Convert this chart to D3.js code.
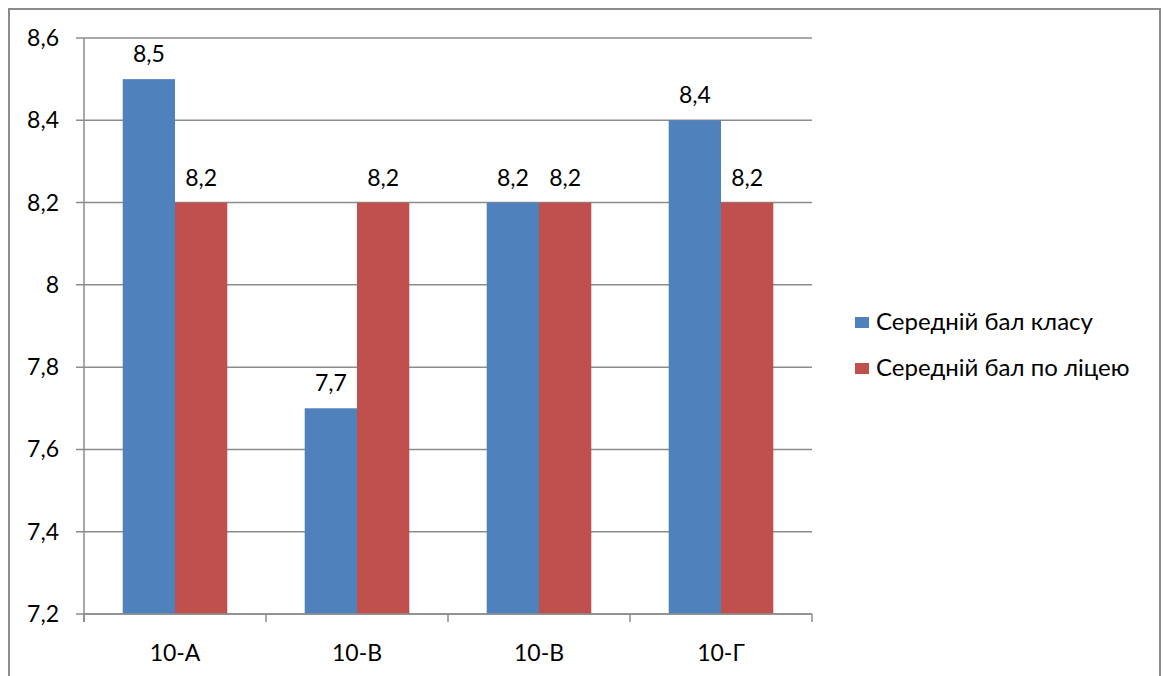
<!DOCTYPE html>
<html><head><meta charset="utf-8">
<script src="https://cdn.jsdelivr.net/npm/d3@7"></script>
<style>body{margin:0;background:#fff;}svg{display:block;font-family:Lato,"Open Sans",sans-serif;}</style>
</head><body>
<svg id="c" width="1163" height="676"></svg>
<script>
const categories = ["10-А", "10-В", "10-В", "10-Г"];
const seriesNames = ["Середній бал класу", "Середній бал по ліцею"];
const classAvg = [8.5, 7.7, 8.2, 8.4];
const lyceumAvg = [8.2, 8.2, 8.2, 8.2];
const yTicks = [7.2, 7.4, 7.6, 7.8, 8, 8.2, 8.4, 8.6];
const colors = ["#4f81bd", "#c0504d"];

(function () {
const svg = d3.select("#c");
const fmt = v => String(v).replace(".", ",");
const FS = 23;

// outer frame
svg.append("rect").attr("x", 9).attr("y", 9).attr("width", 1151).attr("height", 700)
  .attr("fill", "none").attr("stroke", "#8c8c8c").attr("stroke-width", 2);

const pl = 84, pr = 812, pt = 38, pb = 614;
const x = d3.scaleBand().domain(d3.range(categories.length)).range([pl, pr]);
const y = d3.scaleLinear().domain([7.2, 8.6]).range([pb, pt]);

// gridlines
svg.append("g").selectAll("line").data(yTicks).join("line")
  .attr("x1", pl - 8).attr("x2", pr).attr("y1", d => y(d)).attr("y2", d => y(d))
  .attr("stroke", "#8c8c8c").attr("stroke-width", 1.5);

// y labels
svg.append("g").selectAll("text").data(yTicks).join("text")
  .attr("x", 59).attr("y", d => y(d)).attr("dy", "0.35em").attr("text-anchor", "end")
  .attr("font-size", FS).attr("fill", "#000").text(fmt);

const barW = 52.3;
const series = [classAvg, lyceumAvg];
series.forEach((vals, si) => {
  const g = svg.append("g");
  g.selectAll("rect").data(vals).join("rect")
    .attr("x", (d, i) => x(i) + x.bandwidth() / 2 - barW + si * barW)
    .attr("width", barW)
    .attr("y", d => y(d)).attr("height", d => pb - y(d))
    .attr("fill", colors[si]);
  g.selectAll("text").data(vals).join("text")
    .attr("x", (d, i) => x(i) + x.bandwidth() / 2 - barW / 2 + si * barW)
    .attr("y", d => y(d) - 17).attr("text-anchor", "middle")
    .attr("font-size", FS).attr("fill", "#000").text(fmt);
});

// y axis line
svg.append("line").attr("x1", pl).attr("x2", pl).attr("y1", pt).attr("y2", pb + 8)
  .attr("stroke", "#8c8c8c").attr("stroke-width", 1.5);
// x axis
svg.append("line").attr("x1", pl).attr("x2", pr).attr("y1", pb).attr("y2", pb)
  .attr("stroke", "#8c8c8c").attr("stroke-width", 1.5);
const xt = d3.range(categories.length + 1).map(i => pl + i * x.bandwidth());
svg.append("g").selectAll("line").data(xt).join("line")
  .attr("x1", d => d).attr("x2", d => d).attr("y1", pb).attr("y2", pb + 8)
  .attr("stroke", "#8c8c8c").attr("stroke-width", 1.5);
svg.append("g").selectAll("text").data(categories).join("text")
  .attr("x", (d, i) => x(i) + x.bandwidth() / 2).attr("y", 653).attr("dy", "0.35em").attr("text-anchor", "middle")
  .attr("font-size", FS).attr("fill", "#000").text(d => d);

// legend
const lg = svg.append("g");
seriesNames.forEach((n, i) => {
  const yy = 322 + i * 46;
  lg.append("rect").attr("x", 855).attr("y", yy - 5).attr("width", 14).attr("height", 11).attr("fill", colors[i]);
  lg.append("text").attr("x", 876).attr("y", yy).attr("dy", "0.35em").attr("font-size", 24).attr("fill", "#000").text(n);
});
})();
</script>
</body></html>
